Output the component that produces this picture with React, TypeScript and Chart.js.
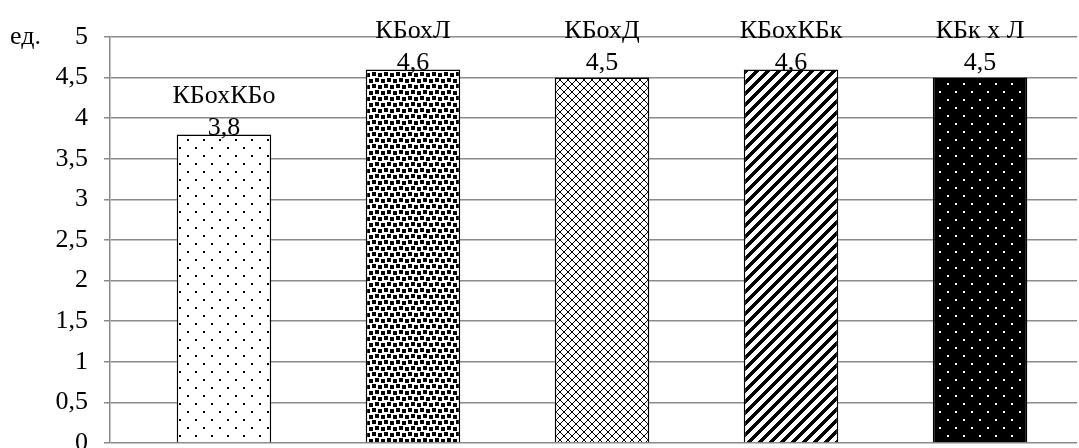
import React, { useEffect, useRef } from "react";
import { Chart, registerables } from "chart.js";

Chart.register(...registerables);

// Combinations and their scores
const categories: string[] = ["КБохКБо", "КБохЛ", "КБохД", "КБохКБк", "КБк х Л"];
const values: number[] = [3.8, 4.6, 4.5, 4.6, 4.5];
const yTickValues: number[] = [0, 0.5, 1, 1.5, 2, 2.5, 3, 3.5, 4, 4.5, 5];
const unitLabel = "ед.";

const FONT_FAMILY = "'Liberation Serif', 'Times New Roman', serif";
const TICK_FONT_SIZE = 26;
const LABEL_FONT_SIZE = 26;
const GRID_COLOR = "#8a8a8a";

const fmt = (v: number) => String(v).replace(".", ",");

function tile(w: number, h: number, draw: (c: CanvasRenderingContext2D) => void): CanvasPattern {
  const cv = document.createElement("canvas");
  cv.width = w;
  cv.height = h;
  const c = cv.getContext("2d")!;
  draw(c);
  return c.createPattern(cv, "repeat")!;
}

function makePatterns(): CanvasPattern[] {
  // sparse dots on white
  const dots = tile(16, 16, (c) => {
    c.fillStyle = "#fff";
    c.fillRect(0, 0, 16, 16);
    c.fillStyle = "#000";
    c.fillRect(3, 3, 2, 2);
    c.fillRect(11, 11, 2, 2);
  });
  // confetti squares
  const confetti = tile(12, 12, (c) => {
    c.fillStyle = "#fff";
    c.fillRect(0, 0, 12, 12);
    c.fillStyle = "#000";
    c.fillRect(0, 0, 4, 4);
    c.fillRect(6, 1, 4, 4);
    c.fillRect(3, 6, 4, 4);
    c.fillRect(9, 7, 3, 4);
    c.fillRect(0, 7, 1, 4);
  });
  // diagonal crosshatch
  const cross = tile(8, 8, (c) => {
    c.fillStyle = "#fff";
    c.fillRect(0, 0, 8, 8);
    c.fillStyle = "#000";
    for (let i = 0; i < 8; i++) {
      c.fillRect(i, i, 1, 1);
      c.fillRect(7 - i, i, 1, 1);
    }
  });
  // wide upward diagonal stripes
  const stripes = tile(11, 11, (c) => {
    c.fillStyle = "#fff";
    c.fillRect(0, 0, 11, 11);
    c.fillStyle = "#000";
    for (let y = 0; y < 11; y++) {
      for (let x = 0; x < 11; x++) {
        if ((x + y) % 11 < 5) c.fillRect(x, y, 1, 1);
      }
    }
  });
  // white dots on black
  const darkDots = tile(16, 16, (c) => {
    c.fillStyle = "#000";
    c.fillRect(0, 0, 16, 16);
    c.fillStyle = "#fff";
    c.fillRect(3, 3, 2, 2);
    c.fillRect(11, 11, 2, 2);
  });
  return [dots, confetti, cross, stripes, darkDots];
}

// Two-line labels (name above value) over each bar; labels of bars
// close to the top share one row.
const barLabels = {
  id: "barLabels",
  afterDatasetsDraw(chart: any) {
    const { ctx } = chart;
    const meta = chart.getDatasetMeta(0);
    const topRow = Math.min(...meta.data.map((b: any) => b.y));
    ctx.save();
    ctx.font = `${LABEL_FONT_SIZE}px ${FONT_FAMILY}`;
    ctx.fillStyle = "#000";
    ctx.textAlign = "center";
    ctx.textBaseline = "alphabetic";
    meta.data.forEach((bar: any, i: number) => {
      const y = bar.y - topRow < 12 ? topRow : bar.y;
      ctx.fillText(fmt(values[i]), bar.x, y + 1);
      ctx.fillText(categories[i], bar.x, y - 31);
    });
    ctx.font = `${TICK_FONT_SIZE}px ${FONT_FAMILY}`;
    ctx.textAlign = "left";
    ctx.textBaseline = "middle";
    const yTop = chart.scales.y.getPixelForValue(yTickValues[yTickValues.length - 1]);
    ctx.fillText(unitLabel, 10, yTop);
    ctx.restore();
  },
};

export default function App() {
  const ref = useRef<HTMLCanvasElement | null>(null);

  useEffect(() => {
    if (!ref.current) return;
    const chart = new Chart(ref.current, {
      type: "bar",
      data: {
        datasets: [
          {
            data: values.map((v, i) => ({ x: i, y: v })),
            backgroundColor: makePatterns(),
            borderColor: "#000",
            borderWidth: 1.5,
            barPercentage: 0.5,
            categoryPercentage: 1,
          },
        ],
      },
      options: {
        responsive: false,
        animation: false,
        layout: { padding: { top: 37, bottom: 5, right: 2, left: 0 } },
        plugins: {
          legend: { display: false },
          tooltip: { enabled: false },
        },
        scales: {
          x: {
            type: "linear",
            display: false,
            offset: false,
            min: -0.603,
            max: 4.513,
            afterBuildTicks: (scale: any) => {
              scale.ticks = categories.map((_, i) => ({ value: i }));
            },
          },
          y: {
            min: 0,
            max: 5,
            afterBuildTicks: (scale: any) => {
              scale.ticks = yTickValues.map((v) => ({ value: v }));
            },
            afterFit: (scale: any) => {
              scale.width = 110;
              scale.paddingTop = 0;
              scale.paddingBottom = 0;
            },
            ticks: {
              callback: (v: any) => fmt(Number(v)),
              color: "#000",
              padding: 16,
              font: { family: FONT_FAMILY, size: TICK_FONT_SIZE },
            },
            grid: { color: GRID_COLOR, lineWidth: 1.5, tickLength: 6 },
            border: { color: GRID_COLOR, width: 1.5 },
          },
        },
      },
      plugins: [barLabels],
    });
    return () => chart.destroy();
  }, []);

  return (
    <div style={{ position: "absolute", left: 0, top: 0, width: 1079, height: 448, background: "#fff" }}>
      <canvas ref={ref} width={1079} height={448} />
    </div>
  );
}
